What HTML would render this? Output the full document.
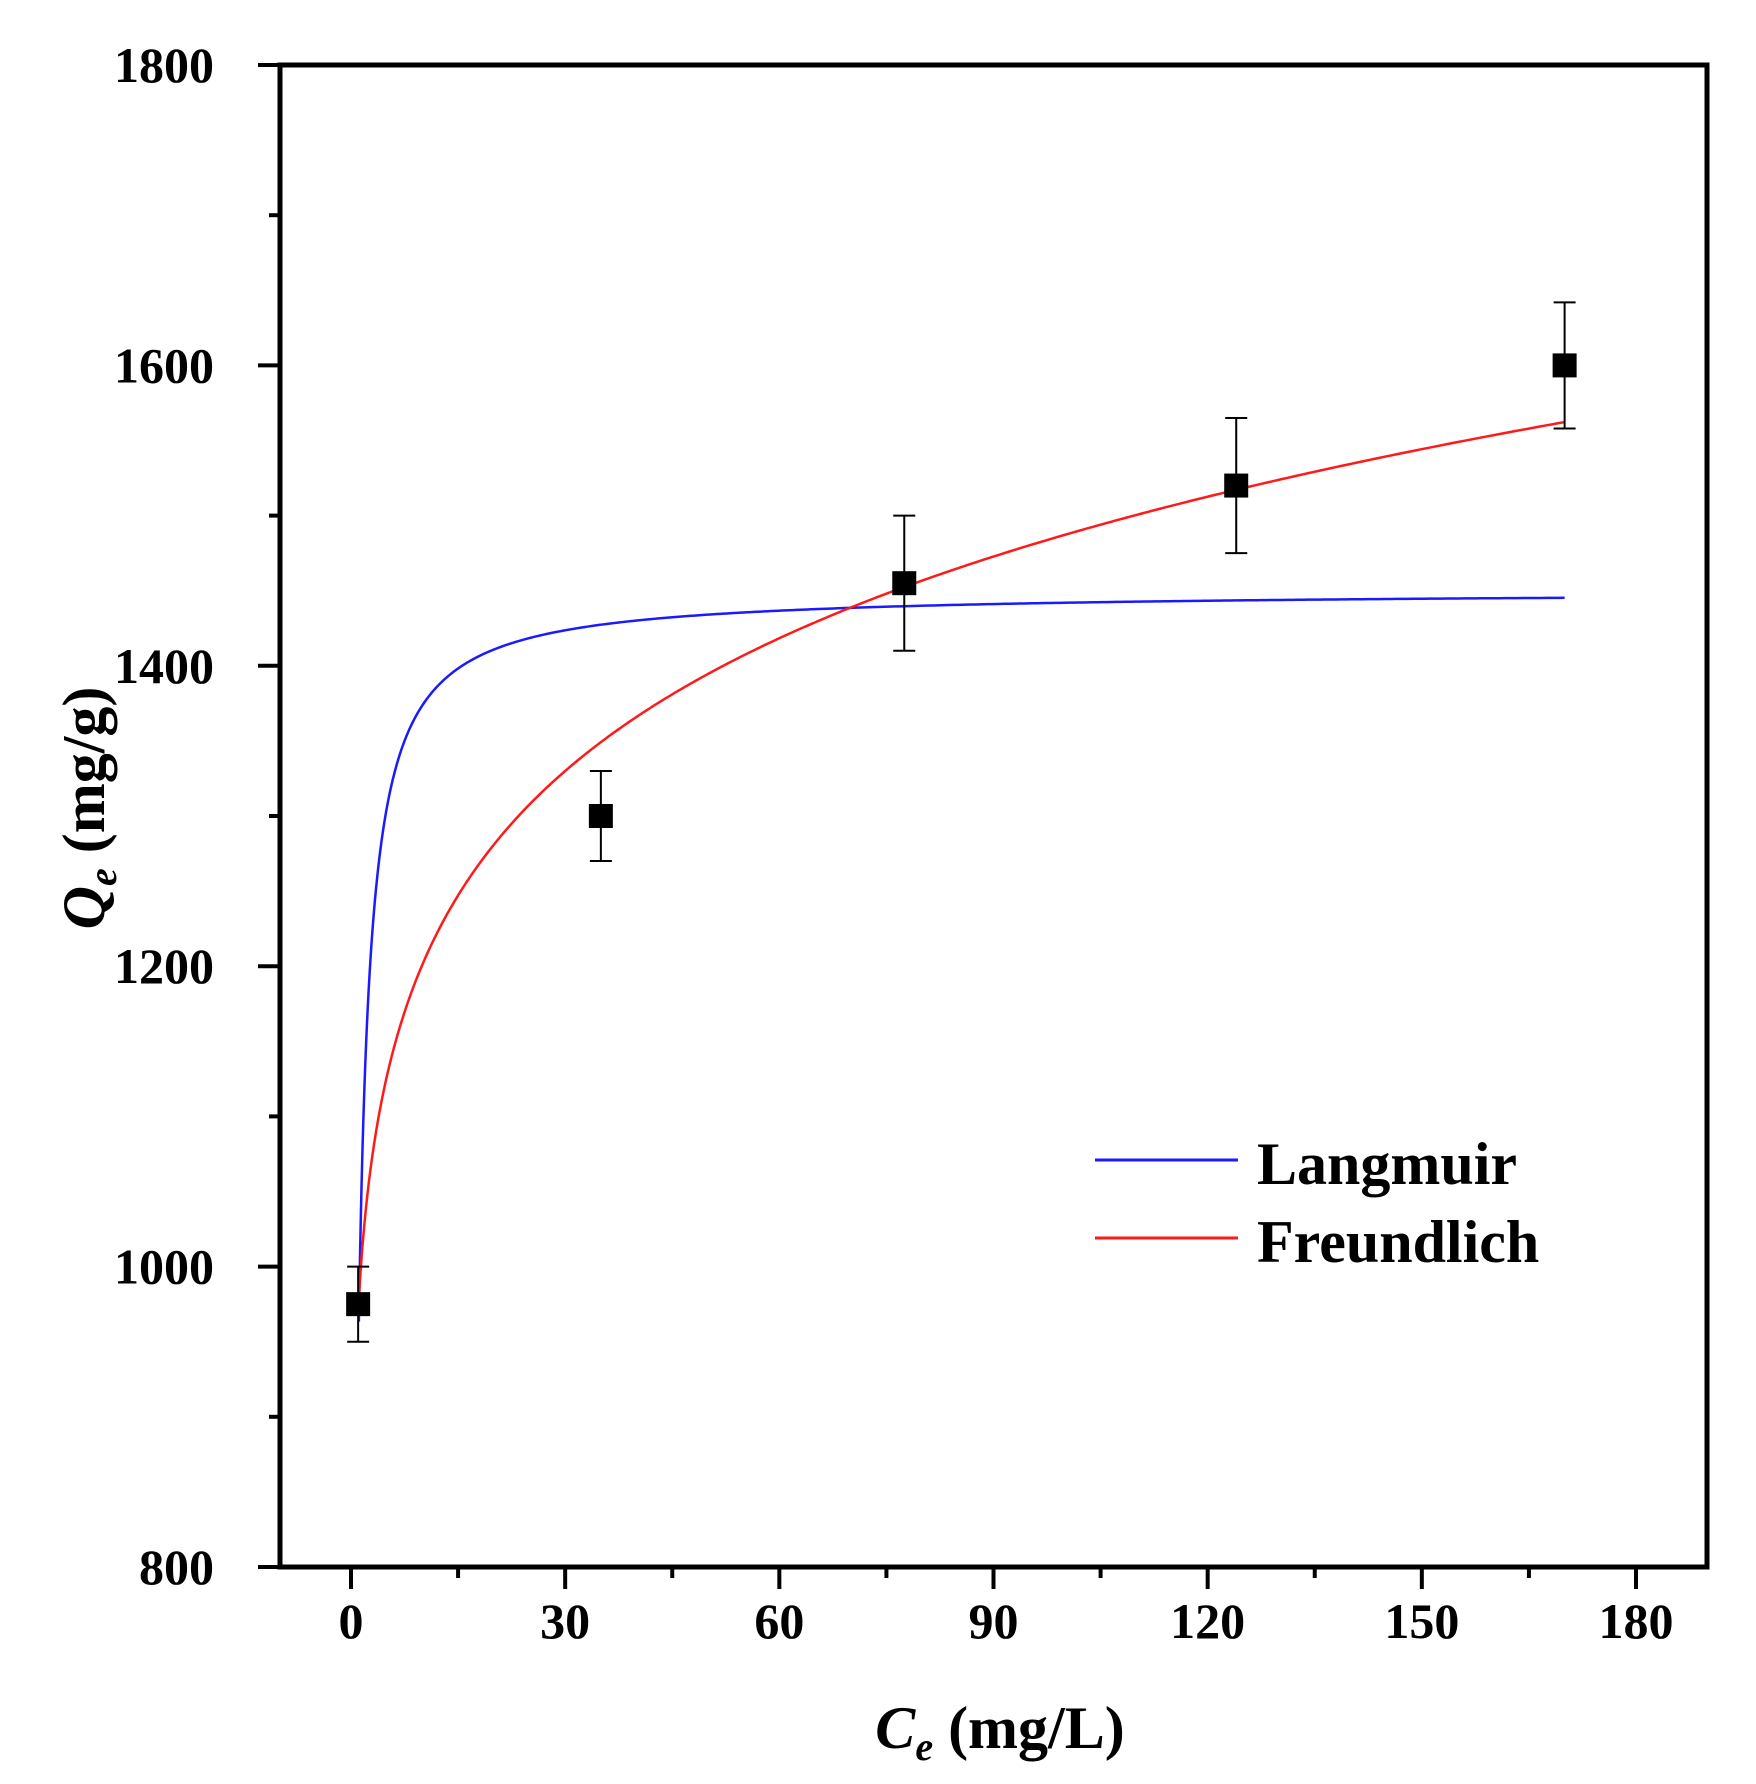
<!DOCTYPE html>
<html><head><meta charset="utf-8"><style>
html,body{margin:0;padding:0;background:#fff;}
svg{display:block;}
text{font-family:"Liberation Serif",serif;font-weight:bold;fill:#000;}
</style></head><body>
<svg id="chart" width="1756" height="1784" viewBox="0 0 1756 1784" xmlns="http://www.w3.org/2000/svg"></svg>
<script>
const xTicks = [0, 30, 60, 90, 120, 150, 180];
const yTicks = [800, 1000, 1200, 1400, 1600, 1800];
const ceValues = [1, 35, 77.5, 124, 170];
const qeValues = [975, 1300, 1455, 1520, 1600];
const qeErrors = [25, 30, 45, 45, 42];
const langmuirParams = [1450, 1.8];   // qm, KL
const freundlichParams = [970, 0.0928]; // KF, 1/n
const langmuirRange = [1.1, 170];
const freundlichRange = [1, 170];

const NS = 'http://www.w3.org/2000/svg';
const svg = document.getElementById('chart');
const L = 280, R = 1707, T = 65, B = 1567;
const X0 = 351, X180 = 1636;
const sx = v => X0 + (v - 0) * (X180 - X0) / 180;
const sy = v => B - (v - 800) * (B - T) / 1000;
function mk(tag, attrs, parent) {
  const e = document.createElementNS(NS, tag);
  for (const k in attrs) e.setAttribute(k, attrs[k]);
  (parent || svg).appendChild(e);
  return e;
}

const frame = mk('rect', {x: L, y: T, width: R - L, height: B - T, fill: 'none', stroke: '#000', 'stroke-width': 5});



xTicks.forEach(v => {
  const t = mk('line', {x1: sx(v), x2: sx(v), y1: B, y2: B + 22, stroke: '#000', 'stroke-width': 4});
  
  
  const lb = mk('text', {x: sx(v), y: 1638, 'text-anchor': 'middle', 'font-size': 50});
  lb.textContent = v;
  
  
});
for (let v = 15; v < 180; v += 30) {
  const t = mk('line', {x1: sx(v), x2: sx(v), y1: B, y2: B + 11, stroke: '#000', 'stroke-width': 4});
  
  
}
yTicks.forEach(v => {
  const t = mk('line', {x1: L - 22, x2: L, y1: sy(v), y2: sy(v), stroke: '#000', 'stroke-width': 4});
  
  
  const lb = mk('text', {x: 214, y: sy(v) + 17, 'text-anchor': 'end', 'font-size': 50});
  lb.textContent = v;
  
  
});
for (let v = 900; v < 1800; v += 200) {
  const t = mk('line', {x1: L - 11, x2: L, y1: sy(v), y2: sy(v), stroke: '#000', 'stroke-width': 4});
  
  
}

function curve(fn, range, color, name) {
  let d = '';
  for (let i = 0; i <= 400; i++) {
    const c = range[0] + (range[1] - range[0]) * Math.pow(i / 400, 2);
    d += (i ? 'L' : 'M') + sx(c).toFixed(2) + ',' + sy(fn(c)).toFixed(2);
  }
  const p = mk('path', {d: d, fill: 'none', stroke: color, 'stroke-width': 2.5});
  
  
}
curve(c => langmuirParams[0] * langmuirParams[1] * c / (1 + langmuirParams[1] * c), langmuirRange, '#1a1aff', 'langmuir-curve');
curve(c => freundlichParams[0] * Math.pow(c, freundlichParams[1]), freundlichRange, '#ff1a1a', 'freundlich-curve');

ceValues.forEach((c, i) => {
  const x = sx(c), y = sy(qeValues[i]);
  const yt = sy(qeValues[i] + qeErrors[i]), yb = sy(qeValues[i] - qeErrors[i]);
  const g = mk('g', {});
  
  
  mk('line', {x1: x, x2: x, y1: yt, y2: yb, stroke: '#000', 'stroke-width': 2}, g);
  mk('line', {x1: x - 11, x2: x + 11, y1: yt, y2: yt, stroke: '#000', 'stroke-width': 2}, g);
  mk('line', {x1: x - 11, x2: x + 11, y1: yb, y2: yb, stroke: '#000', 'stroke-width': 2}, g);
  mk('rect', {x: x - 12, y: y - 12, width: 24, height: 24, fill: '#000'}, g);
});

const lg = mk('g', {});


const l1 = mk('line', {x1: 1095, x2: 1238, y1: 1160, y2: 1160, stroke: '#1a1aff', 'stroke-width': 3}, lg);


const t1 = mk('text', {x: 1257, y: 1184, 'font-size': 60}, lg);
t1.textContent = 'Langmuir';


const l2 = mk('line', {x1: 1095, x2: 1238, y1: 1238, y2: 1238, stroke: '#ff1a1a', 'stroke-width': 3}, lg);


const t2 = mk('text', {x: 1257, y: 1262, 'font-size': 60}, lg);
t2.textContent = 'Freundlich';



const xt = mk('text', {x: 1000, y: 1748, 'text-anchor': 'middle', 'font-size': 60});
xt.innerHTML = '<tspan font-style="italic">C</tspan><tspan font-style="italic" font-size="40" dy="12">e</tspan><tspan dy="-12"> (mg/L)</tspan>';


const yt = mk('text', {x: 0, y: 0, 'text-anchor': 'middle', 'font-size': 60, transform: 'translate(104,808) rotate(-90)'});
yt.innerHTML = '<tspan font-style="italic">Q</tspan><tspan font-style="italic" font-size="40" dy="12">e</tspan><tspan dy="-12"> (mg/g)</tspan>';


</script>
</body></html>
